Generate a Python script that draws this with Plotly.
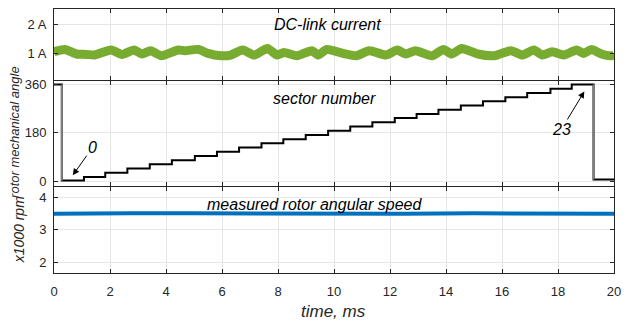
import plotly.graph_objects as go

# ---------------- data ----------------
# DC-link current (centre of the noisy band), time in ms, current in A
cur_t = [0, 0.39, 0.80, 1.15, 1.45, 2.04, 2.43, 2.86, 3.14, 3.45, 3.84, 4.44, 4.68, 5.15, 5.50,
         5.96, 6.31, 6.74, 7.15, 7.62, 7.97, 8.21, 8.68, 9.21, 9.44, 9.74, 10.32, 10.79, 11.26,
         11.85, 12.26, 12.56, 12.91, 13.50, 13.91, 14.20, 14.56, 15.14, 15.73, 16.32, 16.73,
         17.14, 17.44, 17.79, 18.20, 18.67, 18.91, 19.20, 19.55, 19.90, 20.0]
cur_a = [1.058, 1.136, 0.98, 0.966, 0.946, 1.116, 0.966, 1.116, 0.98, 1.092, 0.922, 1.116, 1.092,
         1.136, 1.0, 0.922, 0.946, 1.116, 0.946, 1.17, 0.946, 1.034, 0.922, 1.092, 0.946, 1.136,
         1.0, 0.922, 1.092, 0.946, 1.116, 0.98, 1.092, 0.922, 1.136, 0.98, 1.17, 0.98, 0.922,
         1.092, 0.946, 1.116, 0.946, 1.058, 0.946, 1.116, 1.0, 1.136, 0.98, 0.922, 0.95]

# sector number shown as rotor mechanical angle (deg); step start times in ms
sec_t = [0, 0.28, 1.07, 1.83, 2.62, 3.42, 4.21, 5.03, 5.82, 6.61, 7.41, 8.19, 8.99, 9.79, 10.58,
         11.37, 12.17, 12.95, 13.73, 14.53, 15.32, 16.12, 16.90, 17.73, 18.49, 19.27, 20.0]
sec_angle = [360, 2, 15.7, 31.3, 47.0, 62.6, 78.3, 93.9, 109.6, 125.2, 140.9, 156.5, 172.2, 187.8,
             203.5, 219.1, 234.8, 250.4, 266.1, 281.7, 297.4, 313.0, 328.7, 344.3, 360, 6, 6]

# measured rotor angular speed (x1000 rpm)
spd_t = [0, 1.3, 2.0, 2.7, 5.0, 7.5, 10.0, 12.5, 15.0, 17.5, 20.0]
spd = [3.50, 3.51, 3.53, 3.51, 3.51, 3.50, 3.51, 3.50, 3.51, 3.51, 3.50]

x_ticks = list(range(0, 21, 2))
cur_ticks = [1, 2]
cur_ticklabels = ["1 A", "2 A"]
ang_ticks = [0, 180, 360]
spd_ticks = [2, 3, 4]

# ---------------- figure ----------------
GREEN = "#77AC30"
BLUE = "#0072BD"
DARK = "#262626"
GRID = "#e6e6e6"
FONT = "Liberation Sans, Arial, sans-serif"

fig = go.Figure()
fig.add_trace(go.Scatter(x=cur_t, y=cur_a, mode="lines", line=dict(color=GREEN, width=9, shape="spline", smoothing=0.6),
                         xaxis="x", yaxis="y", showlegend=False))
fig.add_trace(go.Scatter(x=sec_t, y=sec_angle, mode="lines", line=dict(color="black", width=2, shape="hv"),
                         xaxis="x2", yaxis="y2", showlegend=False))
# large drops drawn in grey
for i in (1, 25):
    fig.add_trace(go.Scatter(x=[sec_t[i], sec_t[i]], y=[sec_angle[i - 1], sec_angle[i]], mode="lines",
                             line=dict(color="#808080", width=2), xaxis="x2", yaxis="y2", showlegend=False))
fig.add_trace(go.Scatter(x=spd_t, y=spd, mode="lines", line=dict(color=BLUE, width=4),
                         xaxis="x3", yaxis="y3", showlegend=False))

common_x = dict(range=[0, 20], tickvals=x_ticks, ticks="inside", ticklen=4, tickcolor=DARK,
                showline=True, linecolor=DARK, linewidth=1, mirror="ticks", showgrid=True,
                gridcolor=GRID, gridwidth=1, zeroline=False)
common_y = dict(ticks="inside", ticklen=4, tickcolor=DARK, showline=True, linecolor=DARK,
                linewidth=1, mirror="ticks", showgrid=True, gridcolor=GRID, gridwidth=1,
                zeroline=False, tickfont=dict(family=FONT, size=13, color=DARK),
                ticklabelstandoff=4)

fig.update_layout(
    width=627, height=321,
    margin=dict(l=54, r=6, t=8, b=48),
    plot_bgcolor="white", paper_bgcolor="white",
    font=dict(family=FONT, size=13, color=DARK),
    xaxis=dict(**common_x, domain=[0, 1], anchor="y", showticklabels=False),
    xaxis2=dict(**common_x, domain=[0, 1], anchor="y2", showticklabels=False),
    xaxis3=dict(**common_x, domain=[0, 1], anchor="y3", showticklabels=True,
                tickfont=dict(family=FONT, size=13, color=DARK), ticklabelstandoff=6,
                ticklabeloverflow="allow"),
    yaxis=dict(**common_y, domain=[0.732, 1.0], range=[0.105, 2.51], tickvals=cur_ticks,
               ticktext=cur_ticklabels),
    yaxis2=dict(**common_y, domain=[0.329, 0.729], range=[-18.6, 374.8], tickvals=ang_ticks),
    yaxis3=dict(**common_y, domain=[0, 0.326], range=[1.66, 4.33], tickvals=spd_ticks),
)

it = dict(family=FONT, size=16, color="black")
fig.add_annotation(x=9.77, y=1.98, xref="x", yref="y", text="<i>DC-link current</i>",
                   showarrow=False, font=it)
fig.add_annotation(x=9.67, y=308, xref="x2", yref="y2", text="<i>sector number</i>",
                   showarrow=False, font=it)
fig.add_annotation(x=9.3, y=3.79, xref="x3", yref="y3", text="<i>measured rotor angular speed</i>",
                   showarrow=False, font=it)
fig.add_annotation(x=0.67, y=22, xref="x2", yref="y2", text="<i>0</i>", showarrow=True,
                   ax=20, ay=-28, arrowhead=2, arrowsize=1.3, arrowwidth=1, arrowcolor="black",
                   font=dict(family=FONT, size=16, color="black"), standoff=0)
fig.add_annotation(x=18.94, y=334, xref="x2", yref="y2", text="<i>23</i>", showarrow=True,
                   ax=-23, ay=38, arrowhead=2, arrowsize=1.3, arrowwidth=1, arrowcolor="black",
                   font=dict(family=FONT, size=16, color="black"), standoff=0)


def px_to_paper(px_x, px_y):
    return (px_x - 54) / 567, (273.3 - px_y) / 265.3


# axis titles
xx, yy = px_to_paper(14, 131)
fig.add_annotation(x=xx, y=yy, xref="paper", yref="paper", text="<i>rotor mechanical angle</i>",
                   showarrow=False, textangle=-90, xanchor="center", yanchor="middle",
                   font=dict(family=FONT, size=13, color=DARK))
xx, yy = px_to_paper(18, 230)
fig.add_annotation(x=xx, y=yy, xref="paper", yref="paper", text="<i>x1000 rpm</i>",
                   showarrow=False, textangle=-90, xanchor="center", yanchor="middle",
                   font=dict(family=FONT, size=14, color=DARK))
xx, yy = px_to_paper(337, 312)
fig.add_annotation(x=xx, y=yy, xref="paper", yref="paper", text="<i>time, ms</i>",
                   showarrow=False, xanchor="center", yanchor="middle",
                   font=dict(family=FONT, size=17, color=DARK))

fig.write_html("out.html")
